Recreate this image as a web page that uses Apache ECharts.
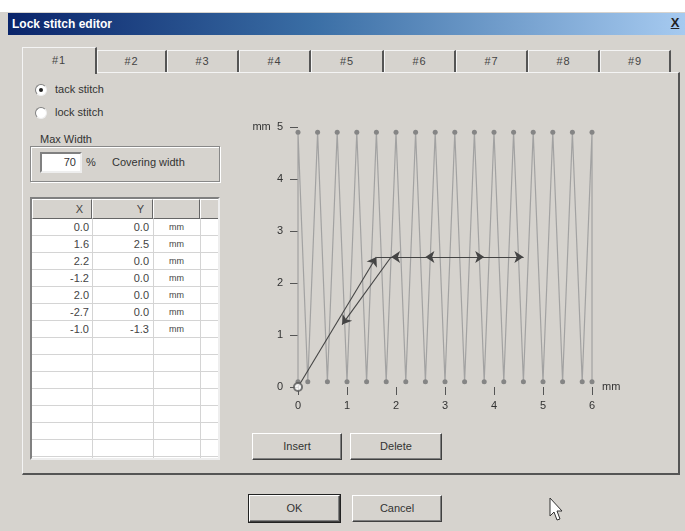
<!DOCTYPE html>
<html><head><meta charset="utf-8">
<script src="https://cdn.jsdelivr.net/npm/echarts@6/dist/echarts.min.js"></script>
<style>
html,body{margin:0;padding:0;width:685px;height:531px;overflow:hidden;background:#fff;font-family:"Liberation Sans",Arial,sans-serif;font-size:11px;color:#333;}
.abs{position:absolute;}
#dlg{left:0;top:12px;width:685px;height:519px;background:#d6d3ce;}
#title{left:8px;top:13px;width:677px;height:22px;background:linear-gradient(to right,#0a246a,#3a6ea5 45%,#a6caf0);color:#fff;font-weight:bold;font-size:12px;line-height:22px;}
#title span{position:absolute;left:4px;}
#close{right:3px;top:3px;width:14px;height:15px;color:#222;font-weight:bold;font-size:13px;line-height:14px;text-align:center;text-decoration:underline;}
.tab{top:50px;height:22px;background:#d6d3ce;border-top:1px solid #f4f4f4;border-left:1px solid #f4f4f4;border-right:2px solid #555;box-sizing:border-box;text-align:center;line-height:21px;color:#444;letter-spacing:1px;}
.tab.sel{top:47px;height:27px;border-right:2px solid #555;z-index:3;line-height:24px;}
#panel{left:22px;top:72px;width:658px;height:403px;box-sizing:border-box;border-top:1px solid #f4f4f4;border-left:1px solid #f4f4f4;border-right:2px solid #555;border-bottom:2px solid #555;}
.radio{width:10px;height:10px;border-radius:50%;background:#fff;border:1px solid #808080;border-right-color:#eee;border-bottom-color:#eee;}
.radio.on::after{content:"";position:absolute;left:3px;top:3px;width:4px;height:4px;border-radius:50%;background:#222;}
.lbl{white-space:nowrap;}
#grp{left:30px;top:146px;width:190px;height:36px;box-sizing:border-box;border:1px solid #888;box-shadow:1px 1px 0 #fff inset,1px 1px 0 #fff;}
#grplbl{left:38px;top:133px;background:#d6d3ce;padding:0 2px;}
#inp{left:40px;top:152px;width:42px;height:21px;box-sizing:border-box;background:#fff;border:2px solid #808080;border-right-color:#eee;border-bottom-color:#eee;text-align:right;line-height:17px;padding-right:4px;}
#tbl{left:30px;top:197px;width:190px;height:263px;box-sizing:border-box;background:#fff;border:2px solid #808080;border-right-color:#eee;border-bottom-color:#eee;overflow:hidden;}
.hcell{top:0;height:20px;box-sizing:border-box;background:#d6d3ce;border-right:1px solid #666;border-bottom:1px solid #666;border-left:1px solid #fff;border-top:1px solid #fff;text-align:right;line-height:19px;padding-right:8px;color:#444;}
.row{left:0;width:190px;height:17px;box-sizing:border-box;border-bottom:1px solid #d4d4d4;}
.vline{top:20px;width:1px;height:260px;background:#d4d4d4;}
.cell{top:0;line-height:16px;text-align:right;color:#444;}
.btn{height:27px;box-sizing:border-box;background:#d6d3ce;border:1px solid #fff;border-right-color:#404040;border-bottom-color:#404040;box-shadow:-1px -1px 0 #808080 inset;text-align:center;line-height:24px;color:#333;}
.btn.def{outline:1px solid #222;}
#chart{left:0;top:0;width:685px;height:531px;z-index:5;}
</style></head>
<body>
<div id="dlg" class="abs"></div>
<div id="title" class="abs"><span>Lock stitch editor</span><div id="close" class="abs">X</div></div>
<div id="tabs"></div>
<div id="panel" class="abs"></div>
<div class="abs radio on" style="left:35px;top:84px;"></div>
<div class="abs lbl" style="left:55px;top:83px;">tack stitch</div>
<div class="abs radio" style="left:35px;top:107px;"></div>
<div class="abs lbl" style="left:55px;top:106px;">lock stitch</div>
<div id="grp" class="abs"></div>
<div id="grplbl" class="abs lbl">Max Width</div>
<div id="inp" class="abs">70</div>
<div class="abs lbl" style="left:86px;top:156px;">%</div>
<div class="abs lbl" style="left:112px;top:156px;">Covering width</div>
<div id="tbl" class="abs"></div>
<div class="abs btn" style="left:252px;top:433px;width:90px;">Insert</div>
<div class="abs btn" style="left:350px;top:433px;width:92px;">Delete</div>
<div class="abs btn def" style="left:249px;top:495px;width:91px;">OK</div>
<div class="abs btn" style="left:352px;top:495px;width:90px;">Cancel</div>
<svg class="abs" style="left:549px;top:497px;" width="18" height="28" viewBox="0 0 18 28">
<polygon points="1,1 1,19 5,15 8,23 11,22 8,14 13,14" fill="#fff" stroke="#333" stroke-width="1"/>
</svg>
<div id="chart" class="abs"></div>
<script>
// ---- data ----
var tabLabels = ['#1','#2','#3','#4','#5','#6','#7','#8','#9'];
var tableX = [0.0, 1.6, 2.2, -1.2, 2.0, -2.7, -1.0];
var tableY = [0.0, 2.5, 0.0, 0.0, 0.0, 0.0, -1.3];
var tableUnit = 'mm';
var stitchX = [0.0, 0.0, 0.2, 0.4, 0.6, 0.8, 1.0, 1.2, 1.4, 1.6, 1.8, 2.0, 2.2, 2.4, 2.6, 2.8, 3.0, 3.2, 3.4, 3.6, 3.8, 4.0, 4.2, 4.4, 4.6, 4.8, 5.0, 5.2, 5.4, 5.6, 5.8, 6.0, 6.0];
var stitchY = [0.1, 4.9, 0.1, 4.9, 0.1, 4.9, 0.1, 4.9, 0.1, 4.9, 0.1, 4.9, 0.1, 4.9, 0.1, 4.9, 0.1, 4.9, 0.1, 4.9, 0.1, 4.9, 0.1, 4.9, 0.1, 4.9, 0.1, 4.9, 0.1, 4.9, 0.1, 4.9, 0.1];
var xTicks = [0, 1, 2, 3, 4, 5, 6];
var yTicks = [0, 1, 2, 3, 4, 5];

// ---- tabs ----
var tabEdges = [22, 97, 167, 239, 311, 384, 456, 528, 600, 671];
var tabsDiv = document.getElementById('tabs');
tabLabels.forEach(function(t, i){
  var d = document.createElement('div');
  d.className = 'abs tab' + (i === 0 ? ' sel' : '');
  d.style.left = tabEdges[i] + 'px';
  d.style.width = (tabEdges[i+1] - tabEdges[i]) + 'px';
  d.textContent = t;
  tabsDiv.appendChild(d);
});

// ---- table ----
var tbl = document.getElementById('tbl');
var colEdges = [0, 60, 121, 168, 190];
var heads = ['X', 'Y', '', ''];
heads.forEach(function(h, i){
  var c = document.createElement('div');
  c.className = 'abs hcell';
  c.style.left = colEdges[i] + 'px';
  c.style.width = (colEdges[i+1] - colEdges[i]) + 'px';
  c.textContent = h;
  tbl.appendChild(c);
});
[60, 121, 168].forEach(function(x){
  var v = document.createElement('div');
  v.className = 'abs vline'; v.style.left = x + 'px'; tbl.appendChild(v);
});
for (var r = 0; r < 14; r++) {
  var row = document.createElement('div');
  row.className = 'abs row';
  row.style.top = (20 + r * 17) + 'px';
  if (r < tableX.length) {
    var a = document.createElement('div'); a.className = 'abs cell';
    a.style.left = '0px'; a.style.width = '57px'; a.textContent = tableX[r].toFixed(1);
    var b = document.createElement('div'); b.className = 'abs cell';
    b.style.left = '60px'; b.style.width = '57px'; b.textContent = tableY[r].toFixed(1);
    var u = document.createElement('div'); u.className = 'abs cell';
    u.style.left = '121px'; u.style.width = '47px'; u.style.textAlign = 'center'; u.style.fontSize = '9px'; u.textContent = tableUnit;
    row.appendChild(a); row.appendChild(b); row.appendChild(u);
  }
  tbl.appendChild(row);
}

// ---- chart ----
var stitchData = stitchX.map(function(x, i){ return [x, stitchY[i]]; });
var pts = [[0, 0]];
var cx = 0, cy = 0;
for (var i = 1; i < tableX.length; i++) {
  cx = +(cx + tableX[i]).toFixed(2);
  cy = +(cy + tableY[i]).toFixed(2);
  pts.push([cx, cy]);
}
var segs = [];
for (var j = 0; j < pts.length - 1; j++) segs.push({coords: [pts[j], pts[j+1]]});

var chart = echarts.init(document.getElementById('chart'), null, {renderer: 'canvas'});
var txt = {color: '#333', fontSize: 11, fontFamily: 'Liberation Sans'};
chart.setOption({
  backgroundColor: 'transparent',
  animation: false,
  grid: {left: 298, right: 93, top: 127, bottom: 144},
  xAxis: {
    type: 'value', min: 0, max: 6, interval: 1, offset: 2,
    axisLine: {show: false},
    axisTick: {show: true, length: 8, lineStyle: {color: '#555'}},
    axisLabel: Object.assign({margin: 11, formatter: function(v){ return xTicks.indexOf(v) >= 0 ? String(v) : ''; }}, txt),
    splitLine: {show: false},
    name: 'mm', nameLocation: 'end', nameGap: 10,
    nameTextStyle: Object.assign({padding: [32, 0, 0, 0]}, txt)
  },
  yAxis: {
    type: 'value', min: 0, max: 5, interval: 1, offset: 3,
    axisLine: {show: false},
    axisTick: {show: true, length: 8, lineStyle: {color: '#555'}},
    axisLabel: Object.assign({margin: 12, formatter: function(v){ return v === 5 ? 'mm  5' : (yTicks.indexOf(v) >= 0 ? String(v) : ''); }}, txt),
    splitLine: {show: false}
  },
  series: [
    {
      type: 'line', data: stitchData, silent: true, z: 2,
      lineStyle: {color: '#a2a2a2', width: 1.2},
      symbol: 'circle', symbolSize: 5, showSymbol: true,
      itemStyle: {color: '#858585'}
    },
    {
      type: 'lines', coordinateSystem: 'cartesian2d', data: segs, silent: true, z: 10,
      symbol: ['none', 'arrow'], symbolSize: 9,
      lineStyle: {color: '#444', width: 1.1, opacity: 1}
    },
    {
      type: 'scatter', data: [pts[0]], symbol: 'emptyCircle', symbolSize: 8, z: 11,
      itemStyle: {color: '#555', borderWidth: 1.2}, silent: true
    }
  ]
});
</script>
</body></html>
